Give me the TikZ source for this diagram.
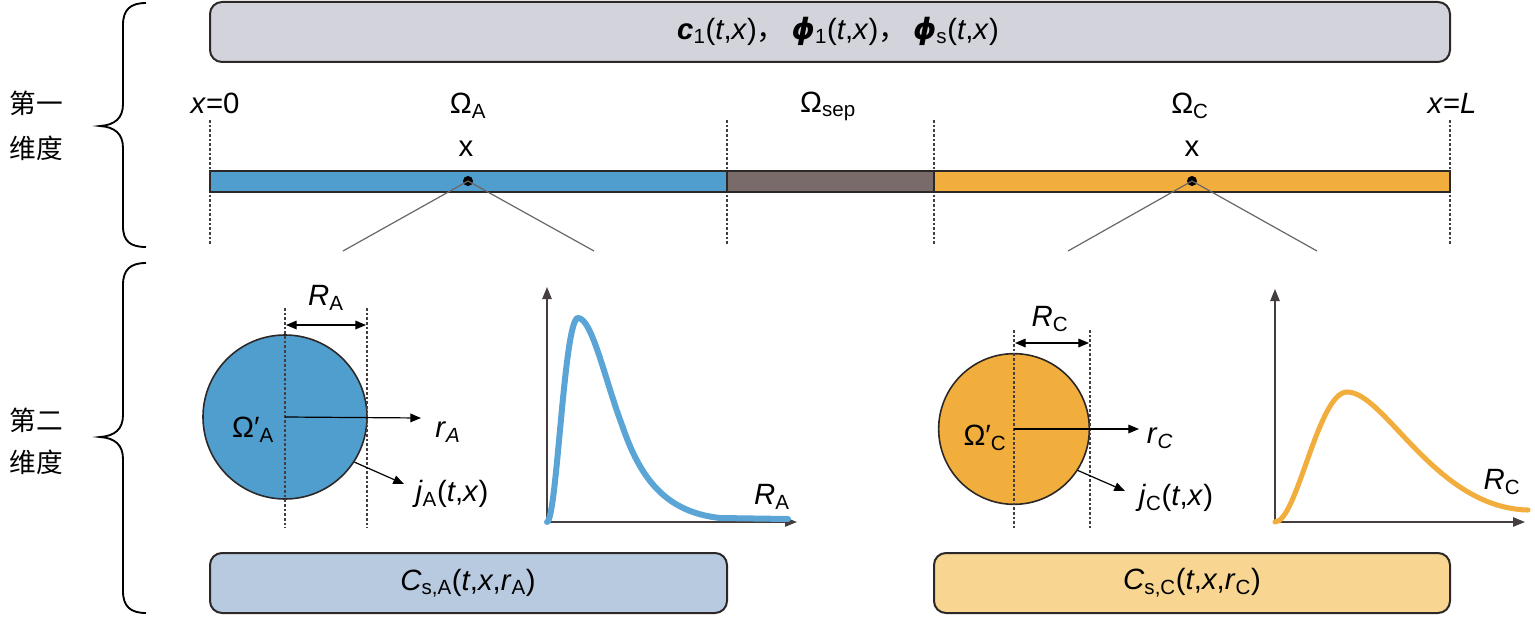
\documentclass[tikz,border=0pt]{standalone}
\usepackage{fontspec}
\setmainfont{Liberation Sans}
\newfontfamily\cjk{Noto Sans CJK SC}
\newfontfamily\phifont{DejaVu Sans}
\usepackage{tikz}
\usetikzlibrary{arrows.meta}

\definecolor{fieldgray}{RGB}{211,211,219}
\definecolor{anodeblue}{RGB}{80,158,206}
\definecolor{sepbrown}{RGB}{121,107,105}
\definecolor{cathorange}{RGB}{242,174,60}
\definecolor{anodelight}{RGB}{184,202,223}
\definecolor{cathlight}{RGB}{248,214,146}
\definecolor{curveblue}{RGB}{90,165,213}
\definecolor{axisgray}{RGB}{70,62,62}
\definecolor{edgegray}{RGB}{45,40,40}

\newcommand{\phisym}{{\phifont\bfseries\itshape ϕ}}

\tikzset{
  txt/.style={font=\fontsize{22}{24}\selectfont, inner sep=0pt},
  cjktxt/.style={font=\cjk\fontsize{20}{22}\selectfont, inner sep=0pt},
  box/.style={draw=edgegray, line width=1.5pt, rounded corners=9pt},
  bar/.style={draw=edgegray, line width=1.5pt},
  guide/.style={draw=axisgray, line width=0.9pt, dash pattern=on 2pt off 1.5pt},
  zoomline/.style={draw=axisgray!80, line width=0.9pt},
  bracket/.style={draw=black, line width=1.4pt},
  particle/.style={circle, draw=edgegray, line width=1.2pt, inner sep=0pt},
  dotnode/.style={circle, fill=black, inner sep=0pt, minimum size=7.5pt},
  radial/.style={draw=black, line width=0.9pt, -{Triangle[length=8pt,width=6.5pt]}},
  dimarrow/.style={draw=black, line width=0.9pt, {Triangle[length=8pt,width=6.5pt]}-{Triangle[length=8pt,width=6.5pt]}},
  axis/.style={draw=axisgray, line width=1.1pt, -{Triangle[length=9pt,width=7pt]}}
}

\begin{document}
\begin{tikzpicture}[x=0.75pt,y=0.75pt,yscale=-1,xscale=1]
\useasboundingbox (0,0) rectangle (1535,617);

%Shape: Braces
\draw[bracket] (146,3) .. controls (130,3) and (123,10) .. (123,25) -- (123,104) .. controls (123,118) and (115,125) .. (100,126) .. controls (115,127) and (123,134) .. (123,148) -- (123,226) .. controls (123,241) and (130,247) .. (146,247) ;
\draw[bracket] (146,263) .. controls (130,263) and (123,270) .. (123,285) -- (123,415) .. controls (123,429) and (115,436) .. (100,437) .. controls (115,438) and (123,445) .. (123,459) -- (123,591) .. controls (123,606) and (130,613) .. (146,613) ;

% Text Node
\node[cjktxt] (dim1a) at (36,103) {第一};
\node[cjktxt] (dim1b) at (36,148) {维度};
\node[cjktxt] (dim2a) at (36,420) {第二};
\node[cjktxt] (dim2b) at (36,462) {维度};

%Shape: Rectangle (field variables)
\draw[box, fill=fieldgray] (210,2) rectangle (1450,62) ;
\node[txt] (fields) at (838,31) {{\bfseries\itshape c}\textsubscript{1}(\textit{t},\textit{x}){\cjk ，}\hspace{4pt}\phisym\textsubscript{1}(\textit{t},\textit{x}){\cjk ，}\hspace{4pt}\phisym\textsubscript{s}(\textit{t},\textit{x})};

%Straight Lines (region borders)
\draw[guide] (210,120) -- (210,246) ;
\draw[guide] (727,120) -- (727,246) ;
\draw[guide] (934,120) -- (934,246) ;
\draw[guide] (1450,120) -- (1450,246) ;

%Shape: Bar
\draw[bar, fill=anodeblue] (210,171) rectangle (727,192) ;
\draw[bar, fill=sepbrown] (727,171) rectangle (934,192) ;
\draw[bar, fill=cathorange] (934,171) rectangle (1450,192) ;

% Text Node
\node[txt] (xzero) at (215,103) {\textit{x}=0};
\node[txt] (xend) at (1452,103) {\textit{x}=\textit{L}};
\node[txt] (omA) at (468,106) {Ω\textsubscript{A}};
\node[txt] (omsep) at (828,106) {Ω\textsubscript{sep}};
\node[txt] (omC) at (1190,106) {Ω\textsubscript{C}};
\node[txt] (xA) at (466,149) {x};
\node[txt] (xC) at (1192,149) {x};

%Shape: Points
\node[dotnode] (ptA) at (468,181) {};
\node[dotnode] (ptC) at (1192,181) {};
\coordinate (zA1) at (343,251);
\coordinate (zA2) at (594,251);
\coordinate (zC1) at (1068,251);
\coordinate (zC2) at (1317,251);
\draw[zoomline] (ptA.center) -- (zA1) ;
\draw[zoomline] (ptA.center) -- (zA2) ;
\draw[zoomline] (ptC.center) -- (zC1) ;
\draw[zoomline] (ptC.center) -- (zC2) ;

%Shape: Circle (anode particle)
\node[particle, fill=anodeblue, minimum size=123pt] (partA) at (285,417) {};
\draw[guide] (285,308) -- (285,528) ;
\draw[guide] (367,308) -- (367,528) ;
\coordinate (RA1) at (286,325);
\coordinate (RA2) at (366,325);
\draw[dimarrow] (RA1) -- (RA2) ;
\coordinate (rA) at (421,418);
\coordinate (jA) at (404,484);
\draw[radial] (partA.center) -- (rA) ;
\draw[radial] (partA.-33) -- (jA) ;
\node[txt] (RAlab) at (326,298) {\textit{R}\textsubscript{A}};
\node[txt] (omApr) at (253,430) {Ω′\textsubscript{A}};
\node[txt] (rAlab) at (448,432) {\textit{r}\textsubscript{\textit{A}}};
\node[txt] (jAlab) at (452,494) {\textit{j}\textsubscript{A}(\textit{t},\textit{x})};

%Shape: Distribution (anode)
\coordinate (oA) at (547,522);
\coordinate (yA) at (547,287);
\coordinate (xAx) at (797,522);
\draw[axis] (oA) -- (yA) ;
\draw[axis] (oA) -- (xAx) ;
\draw[curveblue, line width=4.5pt, line cap=round] (oA) .. controls (557,520) and (564,318) .. (578,318) .. controls (592,318) and (605,380) .. (622,425) .. controls (640,478) and (665,512) .. (720,518) -- (788,519) ;
\node[txt] (RAaxis) at (772,497) {\textit{R}\textsubscript{A}};

%Shape: Circle (cathode particle)
\node[particle, fill=cathorange, minimum size=113pt] (partC) at (1014,429) {};
\draw[guide] (1014,330) -- (1014,528) ;
\draw[guide] (1090,330) -- (1090,528) ;
\coordinate (RC1) at (1015,343);
\coordinate (RC2) at (1089,343);
\draw[dimarrow] (RC1) -- (RC2) ;
\coordinate (rC) at (1139,429);
\coordinate (jC) at (1125,491);
\draw[radial] (partC.center) -- (rC) ;
\draw[radial] (partC.-33) -- (jC) ;
\node[txt] (RClab) at (1050,319) {\textit{R}\textsubscript{C}};
\node[txt] (omCpr) at (985,438) {Ω′\textsubscript{C}};
\node[txt] (rClab) at (1160,438) {\textit{r}\textsubscript{\textit{C}}};
\node[txt] (jClab) at (1176,498) {\textit{j}\textsubscript{C}(\textit{t},\textit{x})};

%Shape: Distribution (cathode)
\coordinate (oC) at (1275,522);
\coordinate (yC) at (1275,289);
\coordinate (xCx) at (1525,522);
\draw[axis] (oC) -- (yC) ;
\draw[axis] (oC) -- (xCx) ;
\draw[cathorange, line width=3.8pt, line cap=round] (oC) .. controls (1297,522) and (1318,392) .. (1347,392) .. controls (1385,392) and (1435,508) .. (1528,510) ;
\node[txt] (RCaxis) at (1502,482) {\textit{R}\textsubscript{C}};

%Shape: Rectangle (particle concentrations)
\draw[box, fill=anodelight] (210,553) rectangle (727,613) ;
\node[txt] (concA) at (468,583) {\textit{C}\textsubscript{s,A}(\textit{t},\textit{x},\textit{r}\textsubscript{A})};
\draw[box, fill=cathlight] (934,553) rectangle (1450,613) ;
\node[txt] (concC) at (1192,583) {\textit{C}\textsubscript{s,C}(\textit{t},\textit{x},\textit{r}\textsubscript{C})};
\end{tikzpicture}
\end{document}
